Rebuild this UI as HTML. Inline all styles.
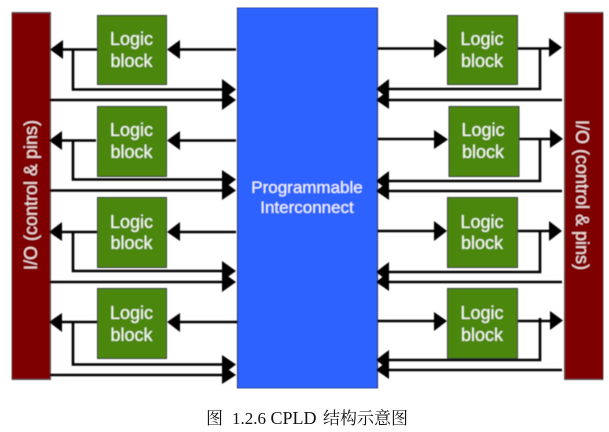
<!DOCTYPE html>
<html>
<head>
<meta charset="utf-8">
<style>
html,body{margin:0;padding:0;background:#fff;width:609px;height:432px;overflow:hidden}
svg{display:block}
.l{fill:none;stroke:#000;stroke-width:2.6}
.a{fill:#000}
.b{fill:#4b860f;stroke:#3a3a3a;stroke-width:1}
.t{font-family:"Liberation Sans",sans-serif;fill:#f4f8ec;stroke:#f4f8ec;stroke-width:.1;font-size:18px;text-anchor:middle}
.c{font-family:"Liberation Sans",sans-serif;fill:#f0f4ff;stroke:#f0f4ff;stroke-width:.1;font-size:17px;text-anchor:middle}
.io{font-family:"Liberation Sans",sans-serif;fill:#f2dfdf;stroke:#f2dfdf;stroke-width:.05;font-size:18px;text-anchor:middle}
.cap{font-family:"Liberation Serif","Noto Serif CJK SC",serif;fill:#111}
</style>
</head>
<body>
<svg width="609" height="432" viewBox="0 0 609 432" xmlns="http://www.w3.org/2000/svg">
<defs><filter id="s" x="0" y="0" width="100%" height="100%"><feGaussianBlur stdDeviation="0.4"/></filter></defs>
<g filter="url(#s)">
<rect x="11.500" y="12.500" width="39" height="367" fill="#7e0000" stroke="#555" stroke-width="1"/>
<rect x="564.500" y="12.500" width="39" height="367" fill="#7e0000" stroke="#555" stroke-width="1"/>
<rect x="237.500" y="7.500" width="140" height="381" fill="#2f62ff" stroke="#223" stroke-width="1"/>

<!-- left lines -->
<path class="l" d="M97 49.500H60M73 49.500V89.500H225M50 100H225M236 49.500H178"/>
<path class="l" d="M96 140.500H60M73 140.500V179.500H225M50 190.500H225M236 140.500H178"/>
<path class="l" d="M97 232H60M73 232V271H225M50 282H225M236 232H178"/>
<path class="l" d="M97 322H60M73 322V364.500H225M50 375H225M237 322H178"/>
<!-- left arrows -->
<path class="a" d="M50 49.500L63 40V59ZM167 49.500L180 40V59ZM236 89.500L222 79V100ZM236 100L222 90V110Z"/>
<path class="a" d="M49 140.500L62 131V150ZM167 140.500L180 131V150ZM236 179.500L222 170V190ZM236 190.500L222 180V200Z"/>
<path class="a" d="M49 232L62 222V241ZM167 232L180 222V241ZM236 271L222 261V281ZM236 282L222 272V292Z"/>
<path class="a" d="M49 322L62 313V332ZM167 322L180 313V332ZM236 364.500L222 355V375ZM236 375L222 365V384Z"/>

<!-- right lines -->
<path class="l" d="M378 48.500H436M518 48.500H552M540 48.500V89H388M562 100H388"/>
<path class="l" d="M378 139H438M519 139H553M540 139V181H388M562 191H388"/>
<path class="l" d="M378 231H436M518 231H552M540 231V272H388M562 282H388"/>
<path class="l" d="M378 321H436M518 321H552M540 318V360H388M562 370H388"/>
<!-- right arrows -->
<path class="a" d="M447 48.500L434 39V58ZM562 47.500L549 38V57ZM376 89L389 79V99ZM376 100L389 90V109Z"/>
<path class="a" d="M448 139.500L434 130V149ZM563 139L550 129V148ZM376 181L389 171V191ZM376 191L389 181V200Z"/>
<path class="a" d="M447 231L434 221V241ZM562 231L549 221V241ZM376 272L389 262V282ZM376 282L389 272V291Z"/>
<path class="a" d="M447 321L434 312V331ZM563 320.500L550 311V330ZM376 360L389 350V370ZM376 370L389 360V379Z"/>

<!-- blocks -->
<rect class="b" x="97.500" y="15.500" width="69" height="69"/>
<rect class="b" x="97.500" y="106.500" width="69" height="70"/>
<rect class="b" x="97.500" y="197.500" width="69" height="70"/>
<rect class="b" x="97.500" y="288.500" width="69" height="70"/>
<rect class="b" x="447.500" y="15.500" width="70" height="69"/>
<rect class="b" x="449" y="106.500" width="70" height="70"/>
<rect class="b" x="447.500" y="197.500" width="70" height="70"/>
<rect class="b" x="447.500" y="288.500" width="70" height="70"/>

<text class="t" x="131.500" y="45">Logic</text><text class="t" x="131.500" y="67">block</text>
<text class="t" x="131.500" y="136">Logic</text><text class="t" x="131.500" y="158">block</text>
<text class="t" x="131.500" y="228">Logic</text><text class="t" x="131.500" y="249">block</text>
<text class="t" x="131.500" y="319">Logic</text><text class="t" x="131.500" y="341">block</text>
<text class="t" x="482" y="45">Logic</text><text class="t" x="482" y="67">block</text>
<text class="t" x="483" y="136">Logic</text><text class="t" x="483" y="158">block</text>
<text class="t" x="482" y="228">Logic</text><text class="t" x="482" y="249">block</text>
<text class="t" x="482" y="319">Logic</text><text class="t" x="482" y="341">block</text>

<text class="c" x="307" y="193">Programmable</text>
<text class="c" x="307" y="213">Interconnect</text>

<text class="io" transform="translate(37 195) rotate(-90)">I/O (control &amp; pins)</text>
<text class="io" transform="translate(576 195) rotate(90)">I/O (control &amp; pins)</text>
</g>

<text class="cap" x="206" y="424" font-size="17">图</text>
<text class="cap" x="232" y="424" font-size="17">1.2.6</text>
<text class="cap" x="270.500" y="424" font-size="18">CPLD</text>
<text class="cap" x="323" y="424" font-size="17">结构示意图</text>
</svg>
</body>
</html>
